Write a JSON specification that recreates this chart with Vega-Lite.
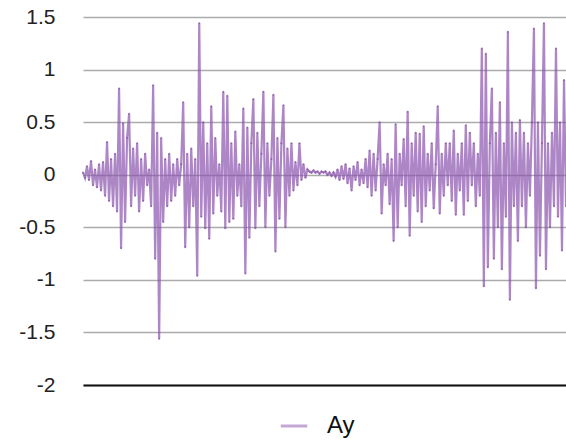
{
  "$schema": "https://vega.github.io/schema/vega-lite/v6.json",
  "autosize": {"type": "none"},
  "width": 483,
  "height": 368,
  "padding": {"left": 83, "top": 17, "right": 0, "bottom": 60},
  "background": "white",
  "config": {"view": {"stroke": null}, "font": "Liberation Sans"},
  "data": {"values": [
    {"t":0,"v":0.02},{"t":1,"v":-0.03},{"t":2,"v":0.08},{"t":3,"v":-0.05},{"t":4,"v":0.13},{"t":5,"v":-0.1},{"t":6,"v":0.05},{"t":7,"v":-0.12},{"t":8,"v":0.1},{"t":9,"v":-0.15},
    {"t":10,"v":0.12},{"t":11,"v":-0.2},{"t":12,"v":0.31},{"t":13,"v":-0.25},{"t":14,"v":0.15},{"t":15,"v":-0.3},{"t":16,"v":0.2},{"t":17,"v":-0.35},{"t":18,"v":0.82},{"t":19,"v":-0.7},
    {"t":20,"v":0.49},{"t":21,"v":-0.45},{"t":22,"v":0.35},{"t":23,"v":0.58},{"t":24,"v":-0.3},{"t":25,"v":0.25},{"t":26,"v":-0.2},{"t":27,"v":0.3},{"t":28,"v":-0.35},{"t":29,"v":0.15},
    {"t":30,"v":-0.25},{"t":31,"v":0.2},{"t":32,"v":-0.1},{"t":33,"v":0.05},{"t":34,"v":-0.3},{"t":35,"v":0.85},{"t":36,"v":-0.8},{"t":37,"v":0.4},{"t":38,"v":-1.56},{"t":39,"v":0.35},
    {"t":40,"v":-0.45},{"t":41,"v":0.15},{"t":42,"v":-0.3},{"t":43,"v":0.2},{"t":44,"v":-0.25},{"t":45,"v":0.1},{"t":46,"v":-0.2},{"t":47,"v":0.15},{"t":48,"v":-0.1},{"t":49,"v":0.1},
    {"t":50,"v":0.69},{"t":51,"v":-0.69},{"t":52,"v":0.2},{"t":53,"v":-0.5},{"t":54,"v":0.25},{"t":55,"v":-0.3},{"t":56,"v":0.15},{"t":57,"v":-0.96},{"t":58,"v":1.44},{"t":59,"v":-0.4},
    {"t":60,"v":0.5},{"t":61,"v":-0.51},{"t":62,"v":0.3},{"t":63,"v":-0.61},{"t":64,"v":0.65},{"t":65,"v":-0.37},{"t":66,"v":0.35},{"t":67,"v":-0.2},{"t":68,"v":0.1},{"t":69,"v":-0.35},
    {"t":70,"v":0.79},{"t":71,"v":-0.51},{"t":72,"v":0.75},{"t":73,"v":-0.45},{"t":74,"v":0.3},{"t":75,"v":-0.42},{"t":76,"v":0.41},{"t":77,"v":-0.2},{"t":78,"v":0.1},{"t":79,"v":-0.3},
    {"t":80,"v":0.63},{"t":81,"v":-0.94},{"t":82,"v":0.45},{"t":83,"v":-0.6},{"t":84,"v":0.3},{"t":85,"v":0.72},{"t":86,"v":-0.51},{"t":87,"v":0.4},{"t":88,"v":-0.3},{"t":89,"v":0.2},
    {"t":90,"v":0.79},{"t":91,"v":-0.5},{"t":92,"v":0.3},{"t":93,"v":-0.2},{"t":94,"v":0.15},{"t":95,"v":0.76},{"t":96,"v":-0.73},{"t":97,"v":0.35},{"t":98,"v":-0.42},{"t":99,"v":0.3},
    {"t":100,"v":0.66},{"t":101,"v":-0.5},{"t":102,"v":0.25},{"t":103,"v":-0.2},{"t":104,"v":0.3},{"t":105,"v":-0.15},{"t":106,"v":0.12},{"t":107,"v":-0.1},{"t":108,"v":0.3},{"t":109,"v":-0.05},
    {"t":110,"v":0.1},{"t":111,"v":-0.03},{"t":112,"v":0.05},{"t":113,"v":0.03},{"t":114,"v":0.02},{"t":115,"v":0.04},{"t":116,"v":0.02},{"t":117,"v":0.03},{"t":118,"v":0.01},{"t":119,"v":0.03},
    {"t":120,"v":0.02},{"t":121,"v":0.03},{"t":122,"v":0.0},{"t":123,"v":0.02},{"t":124,"v":-0.01},{"t":125,"v":0.02},{"t":126,"v":-0.02},{"t":127,"v":0.05},{"t":128,"v":-0.05},{"t":129,"v":0.08},
    {"t":130,"v":-0.04},{"t":131,"v":0.1},{"t":132,"v":-0.08},{"t":133,"v":0.06},{"t":134,"v":-0.15},{"t":135,"v":0.08},{"t":136,"v":-0.05},{"t":137,"v":0.12},{"t":138,"v":-0.1},{"t":139,"v":0.05},
    {"t":140,"v":-0.08},{"t":141,"v":0.15},{"t":142,"v":-0.12},{"t":143,"v":0.23},{"t":144,"v":-0.2},{"t":145,"v":0.2},{"t":146,"v":-0.15},{"t":147,"v":0.15},{"t":148,"v":0.5},{"t":149,"v":-0.37},
    {"t":150,"v":0.1},{"t":151,"v":-0.1},{"t":152,"v":0.2},{"t":153,"v":-0.28},{"t":154,"v":0.15},{"t":155,"v":-0.63},{"t":156,"v":0.48},{"t":157,"v":-0.5},{"t":158,"v":0.2},{"t":159,"v":-0.1},
    {"t":160,"v":0.34},{"t":161,"v":-0.3},{"t":162,"v":0.6},{"t":163,"v":-0.58},{"t":164,"v":0.3},{"t":165,"v":-0.2},{"t":166,"v":0.4},{"t":167,"v":-0.35},{"t":168,"v":0.39},{"t":169,"v":-0.45},
    {"t":170,"v":0.46},{"t":171,"v":-0.3},{"t":172,"v":0.2},{"t":173,"v":-0.15},{"t":174,"v":0.3},{"t":175,"v":-0.32},{"t":176,"v":0.1},{"t":177,"v":0.65},{"t":178,"v":-0.37},{"t":179,"v":0.2},
    {"t":180,"v":-0.2},{"t":181,"v":0.3},{"t":182,"v":-0.1},{"t":183,"v":0.3},{"t":184,"v":-0.25},{"t":185,"v":0.42},{"t":186,"v":-0.38},{"t":187,"v":0.2},{"t":188,"v":-0.15},{"t":189,"v":0.3},
    {"t":190,"v":-0.38},{"t":191,"v":0.47},{"t":192,"v":-0.25},{"t":193,"v":0.4},{"t":194,"v":-0.1},{"t":195,"v":0.3},{"t":196,"v":-0.3},{"t":197,"v":0.2},{"t":198,"v":-0.2},{"t":199,"v":1.2},
    {"t":200,"v":-1.06},{"t":201,"v":1.15},{"t":202,"v":-0.88},{"t":203,"v":0.3},{"t":204,"v":0.82},{"t":205,"v":-0.8},{"t":206,"v":0.4},{"t":207,"v":-0.5},{"t":208,"v":0.69},{"t":209,"v":-0.9},
    {"t":210,"v":0.3},{"t":211,"v":-0.4},{"t":212,"v":1.36},{"t":213,"v":-1.19},{"t":214,"v":0.5},{"t":215,"v":-0.3},{"t":216,"v":0.4},{"t":217,"v":-0.63},{"t":218,"v":0.52},{"t":219,"v":-0.3},
    {"t":220,"v":0.4},{"t":221,"v":-0.5},{"t":222,"v":0.3},{"t":223,"v":-0.2},{"t":224,"v":0.5},{"t":225,"v":1.39},{"t":226,"v":-1.08},{"t":227,"v":0.5},{"t":228,"v":-0.77},{"t":229,"v":0.3},
    {"t":230,"v":1.44},{"t":231,"v":-0.9},{"t":232,"v":0.3},{"t":233,"v":-0.5},{"t":234,"v":0.4},{"t":235,"v":-0.3},{"t":236,"v":1.2},{"t":237,"v":-0.4},{"t":238,"v":0.5},{"t":239,"v":-0.72},
    {"t":240,"v":0.9},{"t":241,"v":-0.3}
  ]},
  "mark": {"type": "line", "strokeWidth": 2.2, "opacity": 0.7, "point": {"filled": true, "size": 4, "color": "#5a2a7e", "opacity": 0.8}},
  "encoding": {
    "x": {"field": "t", "type": "quantitative", "scale": {"domain": [0, 241], "nice": false, "zero": false},
      "axis": {"labels": false, "ticks": false, "grid": false, "title": null, "domainColor": "#111", "domainWidth": 2}},
    "y": {"field": "v", "type": "quantitative", "scale": {"domain": [-2, 1.5], "nice": false},
      "axis": {"values": [-2, -1.5, -1, -0.5, 0, 0.5, 1, 1.5], "title": null, "domain": false, "ticks": false,
        "grid": true, "gridColor": "#ababab", "gridWidth": 1.5, "gridOpacity": 1,
        "labelFontSize": 21, "labelColor": "#222", "labelPadding": 28,
        "labelExpr": "replace(format(datum.value, '~g'), '−', '-')"}},
    "color": {"datum": "Ay", "type": "nominal", "scale": {"range": ["#8a52ac"]},
      "legend": {"title": null, "orient": "none", "legendX": 196, "legendY": 394, "symbolType": "stroke",
        "symbolSize": 700, "symbolStrokeWidth": 3, "symbolOpacity": 0.5, "labelFontSize": 24, "labelColor": "#111", "labelOffset": 18}}
  }
}
